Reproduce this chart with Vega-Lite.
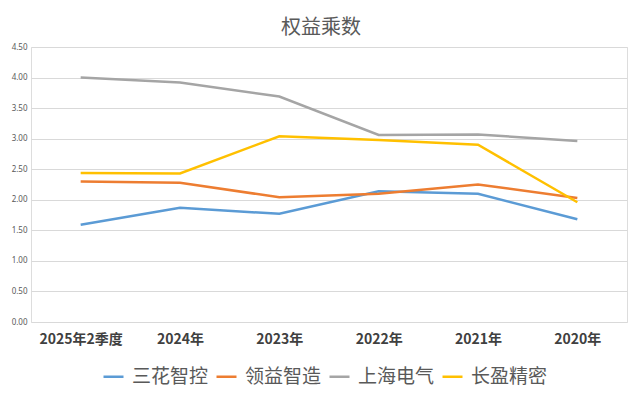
{
  "$schema": "https://vega.github.io/schema/vega-lite/v6.json",
  "autosize": "none",
  "width": 596,
  "height": 275,
  "padding": {"left": 31, "top": 47, "right": 13, "bottom": 81},
  "background": "white",
  "title": {"text": "权益乘数", "font": "Noto Sans CJK SC", "fontSize": 20, "fontWeight": "normal", "color": "#595959", "offset": 5, "dx": -8},
  "data": {"values": [
    {"period": "2025年2季度", "company": "三花智控", "value": 1.59},
    {"period": "2024年", "company": "三花智控", "value": 1.87},
    {"period": "2023年", "company": "三花智控", "value": 1.77},
    {"period": "2022年", "company": "三花智控", "value": 2.14},
    {"period": "2021年", "company": "三花智控", "value": 2.10},
    {"period": "2020年", "company": "三花智控", "value": 1.68},
    {"period": "2025年2季度", "company": "领益智造", "value": 2.30},
    {"period": "2024年", "company": "领益智造", "value": 2.28},
    {"period": "2023年", "company": "领益智造", "value": 2.04},
    {"period": "2022年", "company": "领益智造", "value": 2.10},
    {"period": "2021年", "company": "领益智造", "value": 2.25},
    {"period": "2020年", "company": "领益智造", "value": 2.03},
    {"period": "2025年2季度", "company": "上海电气", "value": 4.00},
    {"period": "2024年", "company": "上海电气", "value": 3.92},
    {"period": "2023年", "company": "上海电气", "value": 3.69},
    {"period": "2022年", "company": "上海电气", "value": 3.06},
    {"period": "2021年", "company": "上海电气", "value": 3.07},
    {"period": "2020年", "company": "上海电气", "value": 2.96},
    {"period": "2025年2季度", "company": "长盈精密", "value": 2.44},
    {"period": "2024年", "company": "长盈精密", "value": 2.43},
    {"period": "2023年", "company": "长盈精密", "value": 3.04},
    {"period": "2022年", "company": "长盈精密", "value": 2.98},
    {"period": "2021年", "company": "长盈精密", "value": 2.90},
    {"period": "2020年", "company": "长盈精密", "value": 1.96}
  ]},
  "mark": {"type": "line", "strokeWidth": 2.5},
  "encoding": {
    "x": {
      "field": "period", "type": "ordinal",
      "sort": ["2025年2季度", "2024年", "2023年", "2022年", "2021年", "2020年"],
      "scale": {"type": "point", "padding": 0.5},
      "axis": {"title": null, "labelAngle": 0, "labelFont": "Noto Sans CJK SC", "labelFontSize": 14, "labelFontWeight": "bold", "labelColor": "#404040", "labelPadding": 10, "ticks": false, "domain": false, "grid": false}
    },
    "y": {
      "field": "value", "type": "quantitative",
      "scale": {"domain": [0, 4.5], "nice": false},
      "axis": {"title": null, "values": [0, 0.5, 1, 1.5, 2, 2.5, 3, 3.5, 4, 4.5], "format": ".2f", "labelFont": "Noto Sans", "labelFontSize": 8, "labelColor": "#595959", "labelPadding": 4, "ticks": false, "domain": false, "gridColor": "#d9d9d9", "gridWidth": 1}
    },
    "color": {
      "field": "company", "type": "nominal",
      "sort": ["三花智控", "领益智造", "上海电气", "长盈精密"],
      "scale": {"domain": ["三花智控", "领益智造", "上海电气", "长盈精密"], "range": ["#5B9BD5", "#ED7D31", "#A5A5A5", "#FFC000"]},
      "legend": {"title": null, "orient": "none", "direction": "horizontal", "legendX": 71, "legendY": 318, "symbolType": "stroke", "symbolSize": 400, "symbolStrokeWidth": 2.5, "labelFont": "Noto Sans CJK SC", "labelFontSize": 19, "labelColor": "#595959", "columnPadding": 2, "labelOffset": 7, "labelLimit": 200}
    }
  }
}
